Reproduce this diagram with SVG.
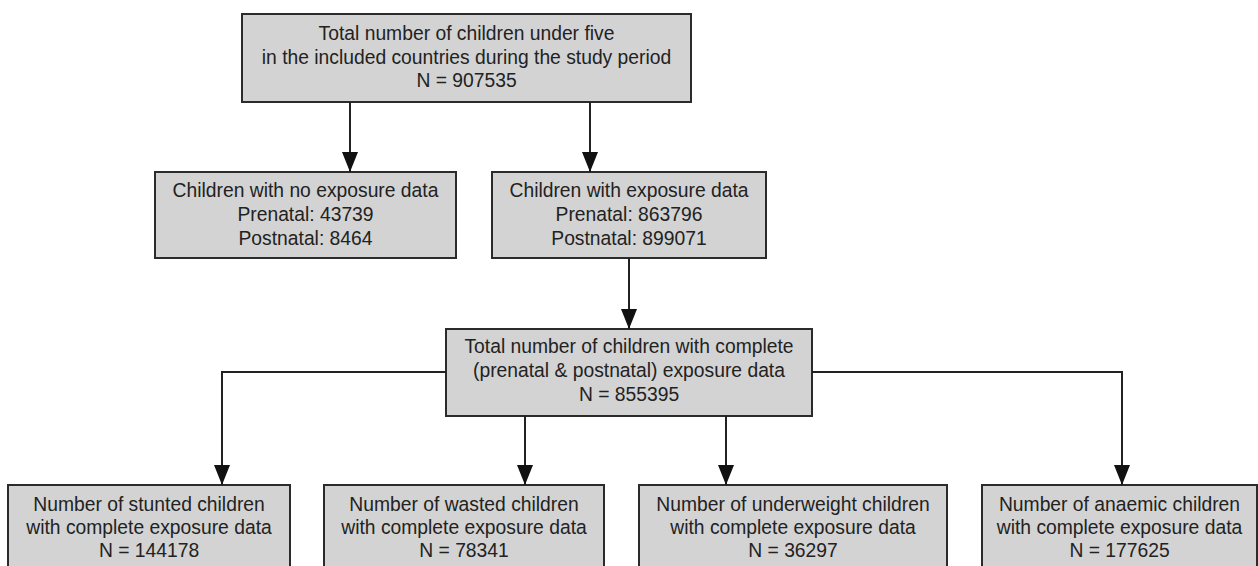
<svg xmlns="http://www.w3.org/2000/svg" width="1258" height="566" viewBox="0 0 1258 566">
<style>
.box{fill:#d3d3d3;stroke:#2b2b2b;stroke-width:2}
.t{font-family:"Liberation Sans",Arial,sans-serif;font-size:19.3px;fill:#222;text-anchor:middle}
.c{fill:none;stroke:#222;stroke-width:2}
</style>
<defs>
<marker id="ah" markerUnits="userSpaceOnUse" viewBox="0 0 20 16" refX="20" refY="8" markerWidth="20" markerHeight="16" orient="auto">
<path d="M0,0 L20,8 L0,16 z" fill="#111"/>
</marker>
</defs>
<rect width="1258" height="566" fill="#fff"/>
<g id="n-total">
<rect class="box" x="242" y="14" width="449" height="88"/>
<text class="t" x="466.5" y="40">Total number of children under five</text>
<text class="t" x="466.5" y="63.5">in the included countries during the study period</text>
<text class="t" x="466.5" y="87">N = 907535</text>
</g>
<g id="n-noexp">
<rect class="box" x="155" y="172" width="301" height="86"/>
<text class="t" x="305.5" y="197">Children with no exposure data</text>
<text class="t" x="305.5" y="221">Prenatal: 43739</text>
<text class="t" x="305.5" y="245">Postnatal: 8464</text>
</g>
<g id="n-exp">
<rect class="box" x="492" y="172" width="274" height="86"/>
<text class="t" x="629" y="197">Children with exposure data</text>
<text class="t" x="629" y="221">Prenatal: 863796</text>
<text class="t" x="629" y="245">Postnatal: 899071</text>
</g>
<g id="n-complete">
<rect class="box" x="446" y="329" width="366" height="87"/>
<text class="t" x="629" y="353">Total number of children with complete</text>
<text class="t" x="629" y="377">(prenatal &amp; postnatal) exposure data</text>
<text class="t" x="629" y="401">N = 855395</text>
</g>
<g id="n-stunted">
<rect class="box" x="8" y="485" width="282" height="92"/>
<text class="t" x="149" y="511">Number of stunted children</text>
<text class="t" x="149" y="534">with complete exposure data</text>
<text class="t" x="149" y="557">N = 144178</text>
</g>
<g id="n-wasted">
<rect class="box" x="324" y="485" width="280" height="92"/>
<text class="t" x="464" y="511">Number of wasted children</text>
<text class="t" x="464" y="534">with complete exposure data</text>
<text class="t" x="464" y="557">N = 78341</text>
</g>
<g id="n-underweight">
<rect class="box" x="639" y="485" width="308" height="92"/>
<text class="t" x="793" y="511">Number of underweight children</text>
<text class="t" x="793" y="534">with complete exposure data</text>
<text class="t" x="793" y="557">N = 36297</text>
</g>
<g id="n-anaemic">
<rect class="box" x="982" y="485" width="275" height="92"/>
<text class="t" x="1119.5" y="511">Number of anaemic children</text>
<text class="t" x="1119.5" y="534">with complete exposure data</text>
<text class="t" x="1119.5" y="557">N = 177625</text>
</g>
<g id="connectors">
<path class="c" d="M350,102 V172" marker-end="url(#ah)"/>
<path class="c" d="M590,102 V172" marker-end="url(#ah)"/>
<path class="c" d="M629,258 V329" marker-end="url(#ah)"/>
<path class="c" d="M446,372 H222 V485" marker-end="url(#ah)"/>
<path class="c" d="M525,416 V485" marker-end="url(#ah)"/>
<path class="c" d="M726,416 V485" marker-end="url(#ah)"/>
<path class="c" d="M812,372 H1122 V485" marker-end="url(#ah)"/>
</g>
</svg>
